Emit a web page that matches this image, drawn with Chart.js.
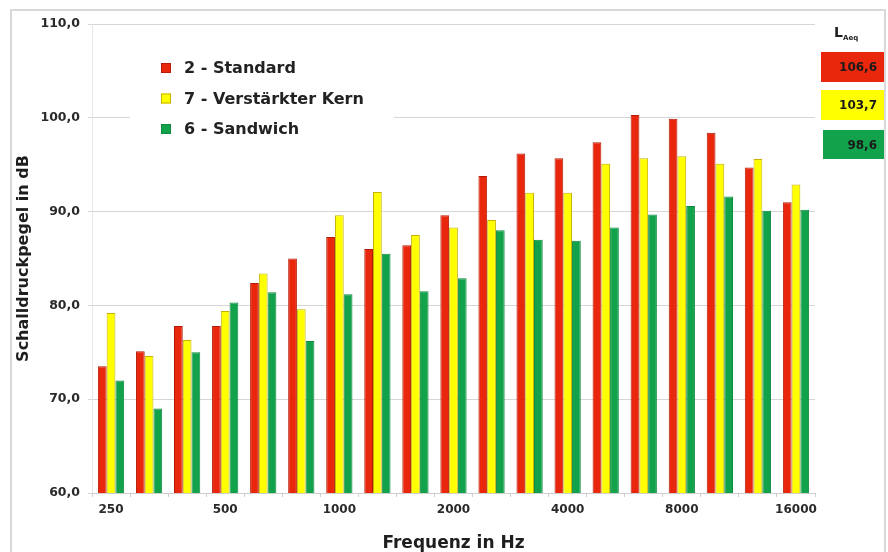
<!DOCTYPE html>
<html>
<head>
<meta charset="utf-8">
<script src="https://cdn.jsdelivr.net/npm/chart.js@4/dist/chart.umd.min.js"></script>
<style>
    html, body { margin: 0; padding: 0; background: #fff; }
    #wrap { width: 888px; height: 552px; position: relative; }
</style>
</head>
<body>
<div id="wrap"><canvas id="chart" width="888" height="552"></canvas></div>
<script>
// =========================
// DATA
// =========================
const frequenzen = ["250", "315", "400", "500", "630", "800", "1000", "1250", "1600", "2000",
    "2500", "3150", "4000", "5000", "6300", "8000", "10000", "12500", "16000"];

const standard = [73.5, 75.1, 77.8, 77.8, 82.4, 85.0, 87.3, 86.0, 86.4, 89.6,
    93.8, 96.2, 95.7, 97.4, 100.3, 99.9, 98.4, 94.7, 91.0];

const verstaerkt = [79.2, 74.6, 76.3, 79.4, 83.4, 79.6, 89.6, 92.1, 87.5, 88.3,
    89.1, 92.0, 92.0, 95.1, 95.7, 95.9, 95.1, 95.6, 92.9];

const sandwich = [72.0, 69.0, 75.0, 80.3, 81.4, 76.2, 81.2, 85.5, 81.5, 82.9,
    88.0, 87.0, 86.9, 88.3, 89.7, 90.6, 91.6, 90.1, 90.2];

const serienNamen = ["2 - Standard", "7 - Verstärkter Kern", "6 - Sandwich"];
const laeqWerte = [106.6, 103.7, 98.6];
const yTicks = [60, 70, 80, 90, 100, 110];

const farben = ["#e8270c", "#ffff00", "#13a24c"];
const rahmen = ["#b41a06", "#c9b000", "#0f8a3e"];

const FONT = "'DejaVu Sans', sans-serif";
const komma = v => v.toFixed(1).replace(".", ",");

// =========================
// PLUGINS
// =========================
const rahmenPlugin = {
    id: "rahmen",
    beforeDraw(chart) {
        const ctx = chart.ctx;
        ctx.save();
        ctx.strokeStyle = "#d9d9d9";
        ctx.lineWidth = 2;
        ctx.strokeRect(11, 10, 874, 560);
        ctx.restore();
    }
};

const legendePlugin = {
    id: "legende",
    beforeDatasetsDraw(chart) {
        const ctx = chart.ctx;
        ctx.save();
        // white box behind legend hides the gridline
        ctx.fillStyle = "#fff";
        ctx.fillRect(130, 42, 264, 108);

        ctx.font = "bold 16px " + FONT;
        ctx.textBaseline = "middle";
        chart.data.datasets.forEach((ds, i) => {
            const y = 68 + i * 30.5;
            ctx.fillStyle = ds.backgroundColor;
            ctx.fillRect(161, y - 5, 10, 10);
            ctx.strokeStyle = ds.borderColor;
            ctx.lineWidth = 1;
            ctx.strokeRect(161.5, y - 4.5, 9, 9);
            ctx.fillStyle = "#222";
            ctx.fillText(ds.label, 184, y + 1);
        });
        ctx.restore();
    }
};

const laeqPlugin = {
    id: "laeq",
    afterDraw(chart) {
        const ctx = chart.ctx;
        ctx.save();
        ctx.fillStyle = "#222";
        ctx.textBaseline = "alphabetic";
        ctx.font = "bold 14px " + FONT;
        ctx.fillText("L", 834, 37);
        ctx.font = "bold 7px " + FONT;
        ctx.fillText("Aeq", 843, 40);

        const boxes = [[821, 52, 63, 30], [821, 90, 63, 30], [823, 130, 61, 29]];
        laeqWerte.forEach((v, i) => {
            const b = boxes[i];
            ctx.fillStyle = farben[i];
            ctx.fillRect(b[0], b[1], b[2], b[3]);
            ctx.fillStyle = "#1a1a1a";
            ctx.font = "bold 12px " + FONT;
            ctx.textAlign = "right";
            ctx.textBaseline = "middle";
            ctx.fillText(komma(v), 877, b[1] + b[3] / 2 + 1);
        });
        ctx.restore();
    }
};

// =========================
// CHART
// =========================
const reihen = [standard, verstaerkt, sandwich];

new Chart(document.getElementById("chart"), {
    type: "bar",
    data: {
        labels: frequenzen,
        datasets: reihen.map((werte, i) => ({
            label: serienNamen[i],
            data: werte,
            backgroundColor: farben[i],
            borderColor: rahmen[i],
            borderWidth: 1,
            categoryPercentage: 0.69,
            barPercentage: 1.0
        }))
    },
    options: {
        responsive: false,
        animation: false,
        layout: {
            padding: { left: 12, right: 73, top: 24, bottom: 0 }
        },
        plugins: {
            legend: { display: false },
            tooltip: { enabled: false }
        },
        scales: {
            y: {
                min: 60,
                max: 110,
                afterBuildTicks(scale) {
                    scale.ticks = yTicks.map(v => ({ value: v }));
                },
                afterFit(scale) { scale.width = 80; },
                border: { display: true, color: "#e6e6e6" },
                grid: {
                    color: "#d6d6d6",
                    tickLength: 4,
                    tickColor: "#d6d6d6"
                },
                ticks: {
                    color: "#2a2a2a",
                    padding: 8,
                    font: { family: FONT, size: 12.5, weight: "bold" },
                    callback: v => komma(v)
                },
                title: {
                    display: true,
                    text: "Schalldruckpegel in dB",
                    color: "#1e1e1e",
                    font: { family: FONT, size: 16, weight: "bold" },
                    padding: { top: 2, bottom: 0 }
                }
            },
            x: {
                afterFit(scale) { scale.height = 59; },
                border: { display: true, color: "#cfcfcf" },
                grid: {
                    display: true,
                    drawOnChartArea: false,
                    tickLength: 4,
                    color: "#cfcfcf"
                },
                ticks: {
                    color: "#2a2a2a",
                    autoSkip: false,
                    maxRotation: 0,
                    padding: 6,
                    font: { family: FONT, size: 12, weight: "bold" },
                    callback: function (v, i) {
                        return i % 3 === 0 ? this.getLabelForValue(v) : "";
                    }
                },
                title: {
                    display: true,
                    text: "Frequenz in Hz",
                    color: "#1e1e1e",
                    font: { family: FONT, size: 17, weight: "bold", lineHeight: 1 },
                    padding: { top: 0, bottom: 0 }
                }
            }
        }
    },
    plugins: [rahmenPlugin, legendePlugin, laeqPlugin]
});
</script>
</body>
</html>
